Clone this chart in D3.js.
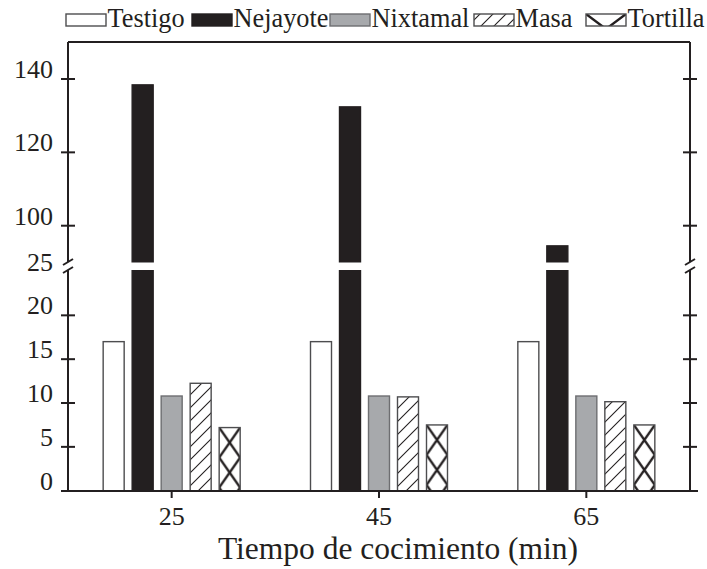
<!DOCTYPE html>
<html>
<head>
<meta charset="utf-8">
<script src="https://cdn.jsdelivr.net/npm/d3@7"></script>
<style>
  body { margin: 0; background: #fff; }
  svg text { font-family: "Liberation Serif", "DejaVu Serif", serif; fill: #231f20; }
</style>
</head>
<body>
<div id="vis"></div>
<script>
const groups = ["25", "45", "65"];
const series = ["Testigo", "Nejayote", "Nixtamal", "Masa", "Tortilla"];
const testigo = [17, 17, 17];
const nejayote = [138.4, 132.4, 94.5];
const nixtamal = [10.8, 10.8, 10.8];
const masa = [12.25, 10.7, 10.15];
const tortilla = [7.2, 7.5, 7.5];
const lowerTicks = [0, 5, 10, 15, 20, 25];
const upperTicks = [100, 120, 140];

const values = {Testigo: testigo, Nejayote: nejayote, Nixtamal: nixtamal, Masa: masa, Tortilla: tortilla};

const width = 707, height = 569;
const plotLeft = 68, plotRight = 690, plotTop = 42, plotBottom = 491;
const breakY = 266;
const ink = "#231f20";
const serif = "'Liberation Serif', 'DejaVu Serif', serif";

const svg = d3.select("#vis").append("svg").attr("width", width).attr("height", height)
  .attr("font-family", serif);
const defs = svg.append("defs");

const x = d3.scaleBand().domain(groups).range([plotLeft, plotRight]).padding(0);
const inner = d3.scaleBand().domain(series)
  .range([x.bandwidth() / 2 - 72.5, x.bandwidth() / 2 + 72.5])
  .paddingInner(0.276).paddingOuter(0.138);

const yLow = d3.scaleLinear().domain([0, 25]).range([490.7, 271.5]);
const yUp = d3.scaleLinear().domain([100, 140]).range([225.7, 79]);
const yPos = v => v <= 25 ? yLow(v) : yUp(v);

// hatch for Masa
const hatch = defs.append("pattern").attr("id", "hatch")
  .attr("patternUnits", "userSpaceOnUse").attr("width", 13).attr("height", 13);
hatch.append("rect").attr("width", 13).attr("height", 13).attr("fill", "#fff");
hatch.append("path").attr("d", "M0,13 L13,0 M-4,4 L4,-4 M9,17 L17,9")
  .attr("stroke", ink).attr("stroke-width", 1.1);

const fills = {Testigo: "#fff", Nejayote: ink, Nixtamal: "#a7a9ac", Masa: "url(#hatch)"};
const strokes = {Testigo: "#4d4d4f", Nejayote: ink, Nixtamal: "#6d6e71", Masa: "#4d4d4f", Tortilla: "#4d4d4f"};

// cross pattern anchored on top of each element
const crossPattern = (id, px, py, w) => {
  const p = defs.append("pattern").attr("id", id)
    .attr("patternUnits", "userSpaceOnUse")
    .attr("x", px).attr("y", py).attr("width", w).attr("height", 30);
  p.append("rect").attr("width", w).attr("height", 30).attr("fill", "#fff");
  p.append("path").attr("d", `M0,0 L${w},30 M${w},0 L0,30`)
    .attr("stroke", ink).attr("stroke-width", 2.4);
  return `url(#${id})`;
};

const bars = [];
groups.forEach((g, gi) => {
  series.forEach(s => {
    bars.push({group: g, gi, series: s, value: values[s][gi]});
  });
});

svg.append("g").selectAll("rect").data(bars).enter().append("rect")
  .attr("x", d => x(d.group) + inner(d.series))
  .attr("y", d => yPos(d.value))
  .attr("width", inner.bandwidth())
  .attr("height", d => plotBottom - yPos(d.value))
  .attr("fill", d => d.series === "Tortilla"
      ? crossPattern("cross" + d.gi, x(d.group) + inner(d.series), yPos(d.value), inner.bandwidth())
      : fills[d.series])
  .attr("stroke", d => strokes[d.series])
  .attr("stroke-width", 1.4);

// break gap through tall bars
svg.append("rect").attr("x", plotLeft + 3).attr("y", breakY - 3.5)
  .attr("width", plotRight - plotLeft - 6).attr("height", 7.5).attr("fill", "#fff");

// frame
const axisG = svg.append("g").attr("stroke", ink).attr("stroke-width", 2).attr("fill", "none");
axisG.append("line").attr("x1", plotLeft).attr("x2", plotRight).attr("y1", plotTop).attr("y2", plotTop);
axisG.append("line").attr("x1", 61).attr("x2", 698).attr("y1", plotBottom).attr("y2", plotBottom);
[plotLeft, plotRight].forEach(ax => {
  axisG.append("line").attr("x1", ax).attr("x2", ax).attr("y1", plotTop).attr("y2", breakY - 4);
  axisG.append("line").attr("x1", ax).attr("x2", ax).attr("y1", breakY + 4).attr("y2", plotBottom);
  axisG.append("line").attr("x1", ax - 5).attr("x2", ax + 5).attr("y1", breakY - 1).attr("y2", breakY - 7);
  axisG.append("line").attr("x1", ax - 5).attr("x2", ax + 5).attr("y1", breakY + 7).attr("y2", breakY + 1);
  lowerTicks.filter(t => t > 0 && t < 25).forEach(t => {
    axisG.append("line").attr("x1", ax - 7).attr("x2", ax + 7).attr("y1", yLow(t)).attr("y2", yLow(t));
  });
  upperTicks.forEach(t => {
    axisG.append("line").attr("x1", ax - 7).attr("x2", ax + 7).attr("y1", yUp(t)).attr("y2", yUp(t));
  });
});
groups.forEach(g => {
  const cx = x(g) + x.bandwidth() / 2;
  axisG.append("line").attr("x1", cx).attr("x2", cx).attr("y1", plotBottom).attr("y2", plotBottom + 7);
});

// tick labels
const labelG = svg.append("g").attr("font-size", 26).attr("text-anchor", "end");
lowerTicks.forEach(t => {
  labelG.append("text").attr("x", 53).attr("y", yLow(t) - 1).text(t);
});
upperTicks.forEach(t => {
  labelG.append("text").attr("x", 53).attr("y", yUp(t) - 1).text(t);
});
svg.append("g").selectAll("text").data(groups).enter().append("text")
  .attr("x", g => x(g) + x.bandwidth() / 2)
  .attr("y", 525)
  .attr("text-anchor", "middle").attr("font-size", 26)
  .text(g => g);

svg.append("text").attr("x", 398).attr("y", 559).attr("text-anchor", "middle")
  .attr("font-size", 31.5).text("Tiempo de cocimiento (min)");

// legend
const legendX = [66, 192, 330, 474, 586];
const boxW = 40, boxY = 14, boxH = 12;
series.forEach((s, i) => {
  const bx = legendX[i];
  const fill = s === "Tortilla" ? crossPattern("crossLeg", bx, boxY, boxW) : fills[s];
  svg.append("rect").attr("x", bx).attr("y", boxY).attr("width", boxW).attr("height", boxH)
    .attr("fill", fill).attr("stroke", strokes[s]).attr("stroke-width", 1.4);
  svg.append("text").attr("x", bx + boxW + 1.5).attr("y", 27).attr("font-size", 26.3).text(s);
});
</script>
</body>
</html>
